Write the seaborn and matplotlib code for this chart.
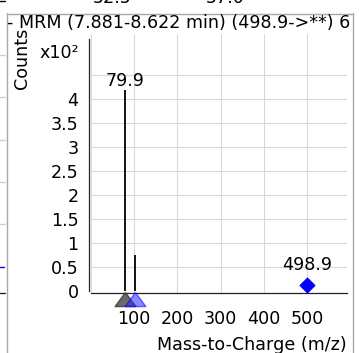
import numpy as np
import matplotlib
matplotlib.use('Agg')
import matplotlib.pyplot as plt
import seaborn as sns
from matplotlib.lines import Line2D
from matplotlib.patches import Rectangle

# stick spectrum (counts)
peak_mz = [79.9, 103.0]
peak_counts = [419, 75]
peak_labels = ['79.9', '']

# precursor marker
precursor_mz = [498.9]
precursor_counts = [12.5]
precursor_labels = ['498.9']

# precursor / product triangles under the axis
tri_mz = [79.9, 103.0]
tri_kind = ['grey', 'blue']

x_ticks = [0, 100, 200, 300, 400, 500]
x_ticklabels = ['', '100', '200', '300', '400', '500']
y_ticks = [0, 0.5, 1, 1.5, 2, 2.5, 3, 3.5, 4, 4.5, 5]
y_ticklabels = ['0', '0.5', '1', '1.5', '2', '2.5', '3', '3.5', '4', '', 'x10²']

title = '- MRM (7.881-8.622 min) (498.9->**) 6'
neighbour_labels = ['52.5', '57.0']

sns.set_style('white')
plt.rcParams['font.family'] = ['DejaVu Sans']
plt.rcParams['text.color'] = 'black'
plt.rcParams['xtick.labelcolor'] = 'black'
plt.rcParams['ytick.labelcolor'] = 'black'
FS = 12.6

W, H = 359, 353
fig = plt.figure(figsize=(W / 100, H / 100), dpi=100)

def fx(px):
    return px / W

def fy(py):
    return 1 - py / H

ax = fig.add_axes([fx(89), fy(293), fx(347 - 89), fy(34) - fy(293)])
scale = 100.0
ax.set_xlim(-4, 592)
ax.set_ylim(-0.042, 5.35)

# grid
for xt in x_ticks:
    ax.axvline(xt, color='#d9d9d9', lw=0.8, zorder=0)
for yt in y_ticks[1:-1]:
    ax.axhline(yt, xmin=0.007, color='#d9d9d9', lw=0.8, zorder=0)

# peaks
ax.vlines(peak_mz, 0, np.array(peak_counts) / scale, color='black', lw=1.3, zorder=3)
for mz, c, lab in zip(peak_mz, peak_counts, peak_labels):
    if lab:
        ax.text(mz, c / scale, lab, ha='center', va='bottom', fontsize=FS, zorder=4)

# precursor diamond
sns.scatterplot(x=precursor_mz, y=np.array(precursor_counts) / scale, marker='D',
                color='#0000ff', s=60, edgecolor='#0000ff', ax=ax, zorder=5, clip_on=False)
for mz, c, lab in zip(precursor_mz, precursor_counts, precursor_labels):
    ax.annotate(lab, (mz, c / scale), xytext=(0, 8), textcoords='offset points',
                ha='center', va='bottom', fontsize=FS)

# triangles hanging below the axis
tri_marker = [(0, -0.15), (1.45, -2.1), (-1.45, -2.1), (0, -0.15)]
tri_style = {'grey': ('#505050', '#3a3a3a', 0.85), 'blue': ('#2a2aff', '#0000ff', 0.55)}
for mz, kind in zip(tri_mz, tri_kind):
    fc, ec, a = tri_style[kind]
    sns.scatterplot(x=[mz], y=[0], marker=tri_marker, s=470, color=fc, edgecolor=ec,
                    linewidth=1, alpha=a, ax=ax, zorder=6, clip_on=False)

# axes styling
ax.set_xticks(x_ticks)
ax.set_xticklabels(x_ticklabels)
ax.set_yticks(y_ticks)
ax.set_yticklabels(y_ticklabels)
ax.tick_params(axis='y', length=7, width=0.9, color='#333333', pad=0.5, labelsize=FS)
ax.tick_params(axis='x', length=8.5, width=0.9, color='#333333', pad=3.5, labelsize=FS)
for side in ['top', 'right']:
    ax.spines[side].set_visible(False)
for side in ['left', 'bottom']:
    ax.spines[side].set_color('#222222')
    ax.spines[side].set_linewidth(0.9)
ax.spines['left'].set_bounds(0, 5.25)
ax.spines['bottom'].set_bounds(0, 592)
ax.set_xlabel('')
ax.set_ylabel('')

fig.text(fx(347), fy(350), 'Mass-to-Charge (m/z)', ha='right', va='baseline', fontsize=FS)
fig.text(fx(22), fy(28), 'Counts', rotation=90, ha='center', va='top', fontsize=FS)

# panel frame
frame_col = '#a8a8a8'
fig.add_artist(Line2D([fx(6.5), fx(6.5)], [fy(13), 0], color=frame_col, lw=1))
fig.add_artist(Line2D([fx(6.5), fx(352.5)], [fy(13.5), fy(13.5)], color=frame_col, lw=1))
fig.add_artist(Line2D([fx(352.5), fx(352.5)], [fy(13), 0], color=frame_col, lw=1))

t = fig.text(fx(7), fy(28), title, ha='left', va='baseline', fontsize=FS)
clip = Rectangle((fx(6.5), 0), fx(352) - fx(6.5), 1, transform=fig.transFigure)
t.set_clip_path(clip)

# bits of the neighbouring panels
fig.text(fx(112), fy(3), neighbour_labels[0], ha='center', va='baseline', fontsize=FS)
fig.text(fx(225), fy(3), neighbour_labels[1], ha='center', va='baseline', fontsize=FS)
fig.add_artist(Line2D([0, fx(5)], [fy(1), fy(1)], color='black', lw=1))
for gy in [55, 97, 140, 182, 224]:
    fig.add_artist(Line2D([0, fx(5)], [fy(gy), fy(gy)], color='#d0d0d0', lw=1))
fig.add_artist(Line2D([0, fx(4)], [fy(267), fy(267)], color='#0000ff', lw=1))
fig.add_artist(Line2D([0, fx(5)], [fy(293), fy(293)], color='#222222', lw=1))

fig.savefig('out.png', dpi=100)
